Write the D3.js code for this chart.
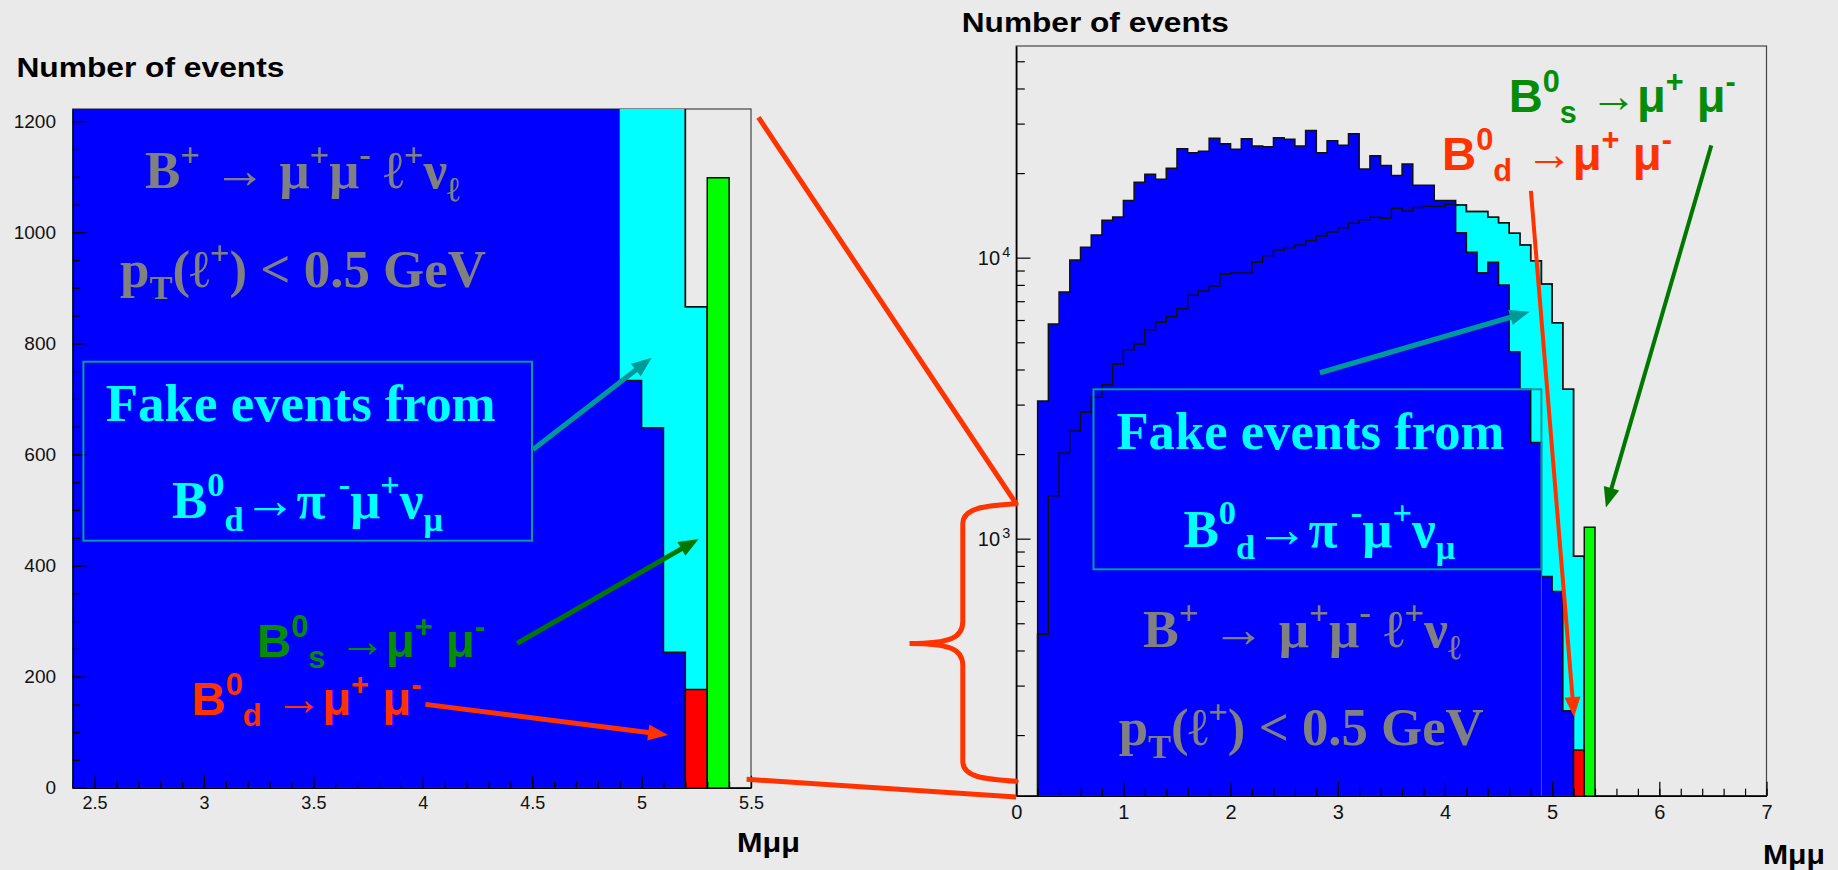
<!DOCTYPE html>
<html>
<head>
<meta charset="utf-8">
<script src="https://cdn.jsdelivr.net/npm/d3@7"></script>
<style>
  body { margin: 0; background: #eaeaea; }
  svg { display: block; }
  text { white-space: pre; }
</style>
</head>
<body>
<div id="chart"></div>
<script>
// ---- values: events per 0.1 GeV bin of M(mu mu) ----
const binWidth = 0.1;

// B+ -> mu+ mu- l+ nu  (blue), first bin starts at 0.2
const bplusStart = 0.2;
const bplusCounts = [3090, 5810, 7550, 9810, 10890, 12040, 13590, 13960, 15960, 18540,
  19800, 19010, 20800, 24430, 23640, 23930, 26620, 25450, 24310, 26520,
  24970, 24830, 26730, 26370, 24970, 28330, 23640, 26060, 25120, 27620,
  20690, 23070, 21260, 19590, 21560, 18100, 18100, 15960, 15960, 12270,
  10450, 8840, 9630, 7990, 4630, 3400, 2200, 733, 648, 244];

// fake events B0d -> pi- mu+ nu  (cyan / step line), first bin starts at 0.2
const fakeStart = 0.2;
const fakeCounts = [457, 1422, 2018, 2416, 2818, 3186, 3527, 4174, 4706, 4918,
  5543, 5888, 6166, 6584, 7345, 7613, 7930, 8730, 8820, 8820,
  9630, 10160, 10650, 10850, 11100, 11500, 11950, 12350, 12790, 13260,
  13650, 13920, 13800, 14990, 14660, 15070, 15200, 15200, 15450, 15390,
  14600, 14600, 13920, 13320, 12210, 11100, 9760, 8060, 5870, 3400,
  866];

// B0d -> mu mu (red) and B0s -> mu mu (green)
const bdStart = 5.2;
const bdCounts = [177];
const bsStart = 5.3;
const bsCounts = [1098];

// tick labels
const leftXTicks = [2.5, 3, 3.5, 4, 4.5, 5, 5.5];
const leftYTicks = [0, 200, 400, 600, 800, 1000, 1200];
const rightXTicks = [0, 1, 2, 3, 4, 5, 6, 7];
const rightYTicks = [1000, 10000];

// label texts as [text, 'sup'|'sub'] pieces
const bplusLabel = [['B'], ['+', 'sup'], [' → μ'], ['+', 'sup'], ['μ'], ['-', 'sup'], [' ℓ'], ['+', 'sup'], ['ν'], ['ℓ', 'sub']];
const ptLabel = [['p'], ['T', 'sub'], ['(ℓ'], ['+', 'sup'], [') < 0.5 GeV']];
const fakeLabel1 = [['Fake events from']];
const fakeLabel2 = [['B'], ['0', 'sup'], ['d', 'sub'], ['→π '], ['-', 'sup'], ['μ'], ['+', 'sup'], ['ν'], ['μ', 'sub']];
const bsLabel = [['B'], ['0', 'sup'], ['s', 'sub'], [' →μ'], ['+', 'sup'], [' μ'], ['-', 'sup']];
const bdLabel = [['B'], ['0', 'sup'], ['d', 'sub'], [' →μ'], ['+', 'sup'], [' μ'], ['-', 'sup']];

const colors = {
  blue: '#0000ff', cyan: '#00ffff', red: '#ff0000', green: '#00ff00',
  teal: '#009999', arrowGreen: '#007800', orange: '#ff3300',
  gray: '#808080', textGreen: '#068c06', line: '#111'
};

const serif = '"Liberation Serif", "Times New Roman", serif';
const sans = '"Liberation Sans", Arial, sans-serif';

function toBins(start, counts) {
  return counts.map((n, i) => {
    const x0 = Math.round((start + i * binWidth) * 10) / 10;
    return {x0: x0, x1: Math.round((x0 + binWidth) * 10) / 10, n: n};
  });
}

const bplusBins = toBins(bplusStart, bplusCounts);
const fakeBins = toBins(fakeStart, fakeCounts);
const bdBins = toBins(bdStart, bdCounts);
const bsBins = toBins(bsStart, bsCounts);

const svg = d3.select('#chart').append('svg')
  .attr('width', 1838)
  .attr('height', 870);

// text with super/subscripts, squeezed to the width seen in the picture
function richText(g, lab) {
  const t = g.append('text')
    .attr('x', lab.x)
    .attr('y', lab.y)
    .attr('font-family', lab.family)
    .attr('font-weight', 'bold')
    .attr('font-size', lab.size)
    .attr('fill', lab.color)
    .attr('textLength', lab.width)
    .attr('lengthAdjust', 'spacingAndGlyphs');
  let shift = 0;
  lab.parts.forEach(([txt, kind]) => {
    const want = kind === 'sup' ? -0.42 * lab.size : kind === 'sub' ? 0.24 * lab.size : 0;
    t.append('tspan')
      .attr('dy', want - shift)
      .attr('font-size', kind ? lab.size * 0.65 : lab.size)
      .text(txt);
    shift = want;
  });
}

function drawArrow(g, p0, p1, color, width, headLen, headW) {
  const dx = p1[0] - p0[0], dy = p1[1] - p0[1];
  const len = Math.hypot(dx, dy);
  const ux = dx / len, uy = dy / len;
  const bx = p1[0] - ux * headLen, by = p1[1] - uy * headLen;
  g.append('line')
    .attr('x1', p0[0]).attr('y1', p0[1])
    .attr('x2', bx + ux * 2).attr('y2', by + uy * 2)
    .attr('stroke', color)
    .attr('stroke-width', width);
  g.append('path')
    .attr('d', `M${p1[0]},${p1[1]}L${bx - uy * headW},${by + ux * headW}L${bx + uy * headW},${by - ux * headW}Z`)
    .attr('fill', color);
}

class HistPanel {

  constructor(_config) {
    this.config = _config;
    this.initVis();
  }

  initVis() {
    let vis = this;
    const c = vis.config;

    vis.x = d3.scaleLinear().domain(c.xDomain).range([0, c.width]);
    vis.y = (c.log ? d3.scaleLog() : d3.scaleLinear()).domain(c.yDomain).range([c.height, 0]);

    vis.g = svg.append('g')
      .attr('transform', `translate(${c.left},${c.top})`);

    vis.g.append('defs').append('clipPath')
        .attr('id', c.id + '-clip')
      .append('rect')
        .attr('width', c.width)
        .attr('height', c.height);

    // frame
    vis.g.append('rect')
      .attr('width', c.width)
      .attr('height', c.height)
      .attr('fill', 'none')
      .attr('stroke', '#444')
      .attr('stroke-width', 1.2);

    vis.chart = vis.g.append('g')
      .attr('clip-path', `url(#${c.id}-clip)`);

    vis.renderVis();
  }

  areaPath(bins) {
    let vis = this;
    const p = d3.path();
    const y0 = vis.config.height;
    bins.forEach((b, i) => {
      if (i === 0) p.moveTo(vis.x(b.x0), y0);
      p.lineTo(vis.x(b.x0), vis.y(b.n));
      p.lineTo(vis.x(b.x1), vis.y(b.n));
    });
    p.lineTo(vis.x(bins[bins.length - 1].x1), y0);
    p.closePath();
    return p.toString();
  }

  // step outline; optionally leave out the vertical coming down from an off-scale bin
  outlinePath(bins, skipClipped) {
    let vis = this;
    const p = d3.path();
    const y0 = vis.config.height;
    let prevClipped = false;
    bins.forEach((b, i) => {
      const yy = vis.y(b.n);
      if (i === 0) {
        p.moveTo(vis.x(b.x0), y0);
        p.lineTo(vis.x(b.x0), yy);
      } else if (skipClipped && prevClipped && yy > 0) {
        p.moveTo(vis.x(b.x0), yy);
      } else {
        p.lineTo(vis.x(b.x0), yy);
      }
      p.lineTo(vis.x(b.x1), yy);
      prevClipped = yy < 0;
    });
    p.lineTo(vis.x(bins[bins.length - 1].x1), y0);
    return p.toString();
  }

  renderVis() {
    let vis = this;
    const c = vis.config;

    const hists = [
      {bins: fakeBins, fill: colors.cyan, stroke: '#333', skip: false},
      {bins: bplusBins, fill: colors.blue, stroke: colors.line, skip: true},
      {bins: fakeBins, fill: 'none', stroke: colors.line, skip: false},
      {bins: bdBins, fill: colors.red, stroke: colors.line, skip: false},
      {bins: bsBins, fill: colors.green, stroke: colors.line, skip: false}
    ];

    hists.forEach(h => {
      if (h.fill !== 'none') {
        vis.chart.append('path')
          .attr('d', vis.areaPath(h.bins))
          .attr('fill', h.fill);
      }
      vis.chart.append('path')
        .attr('d', vis.outlinePath(h.bins, h.skip))
        .attr('fill', 'none')
        .attr('stroke', h.stroke)
        .attr('stroke-width', 1.5);
    });

    // axes, ticks pointing into the frame
    const xMajor = d3.axisBottom(vis.x)
      .tickValues(c.xTicks)
      .tickSizeInner(-c.xTickLen)
      .tickSizeOuter(0)
      .tickPadding(c.xPad)
      .tickFormat(d => d);
    const xMinor = d3.axisBottom(vis.x)
      .tickValues(c.xMinor)
      .tickSize(-c.xTickLen / 2)
      .tickFormat('');

    vis.g.append('g').attr('class', 'minor')
      .attr('transform', `translate(0,${c.height})`)
      .call(xMinor);
    vis.xAxisG = vis.g.append('g')
      .attr('transform', `translate(0,${c.height})`)
      .call(xMajor);
    vis.xAxisG.selectAll('text')
      .attr('font-family', sans)
      .attr('font-size', c.xFont)
      .attr('fill', '#111');

    const yMajor = d3.axisLeft(vis.y)
      .tickValues(c.yTicks)
      .tickSizeInner(-c.yTickLen)
      .tickSizeOuter(0)
      .tickPadding(c.yPad)
      .tickFormat(c.log ? () => '10' : d3.format('d'));
    const yMinor = d3.axisLeft(vis.y)
      .tickValues(c.yMinor)
      .tickSize(-c.yTickLen * 0.55)
      .tickFormat('');

    vis.g.append('g').attr('class', 'minor').call(yMinor);
    vis.yAxisG = vis.g.append('g').call(yMajor);
    vis.yAxisG.selectAll('text')
      .attr('font-family', sans)
      .attr('font-size', c.yFont)
      .attr('fill', '#111');
    if (c.log) {
      vis.yAxisG.selectAll('.tick text')
        .append('tspan')
        .attr('dy', '-0.55em')
        .attr('dx', '0.15em')
        .attr('font-size', '0.72em')
        .text(d => Math.round(Math.log10(d)));
    }

    vis.g.selectAll('.domain')
      .attr('stroke', '#000')
      .attr('stroke-width', 1.6);
    vis.g.selectAll('.minor .domain').remove();
    vis.g.selectAll('.tick line')
      .attr('stroke', '#000')
      .attr('stroke-width', 1.2);

    // annotations
    vis.notes = vis.g.append('g');
    if (c.extraLine) {
      vis.notes.append('line')
        .attr('x1', vis.x(c.extraLine.x)).attr('x2', vis.x(c.extraLine.x))
        .attr('y1', c.extraLine.y0).attr('y2', c.height)
        .attr('stroke', '#3355ff')
        .attr('stroke-width', 1);
    }
    vis.notes.append('rect')
      .attr('x', c.box.x).attr('y', c.box.y)
      .attr('width', c.box.w).attr('height', c.box.h)
      .attr('fill', 'none')
      .attr('stroke', '#0a9a9a')
      .attr('stroke-width', 2);

    c.labels.forEach(lab => richText(vis.notes, lab));

    c.arrows.forEach(a => {
      drawArrow(vis.notes,
        [vis.x(a.from[0]), vis.y(a.from[1])],
        [vis.x(a.to[0]), vis.y(a.to[1])],
        a.color, a.width, a.headLen, a.headW);
    });
  }
}

const grayTxt = {family: serif, color: colors.gray, size: 53};
const cyanTxt = {family: serif, color: colors.cyan, size: 53};
const greenTxt = {family: sans, color: colors.textGreen, size: 47};
const redTxt = {family: sans, color: colors.orange, size: 47};

const leftPanel = new HistPanel({
  id: 'left',
  left: 72.7, top: 109, width: 678.3, height: 678.7,
  xDomain: [2.4, 5.5], yDomain: [0, 1222], log: false,
  xTicks: leftXTicks, xMinor: d3.range(24, 56).map(d => d / 10),
  yTicks: leftYTicks, yMinor: d3.range(0, 1222, 50),
  xTickLen: 12, yTickLen: 13.6, xPad: 8.5, yPad: 16.7, xFont: 18, yFont: 19,
  box: {x: 10.7, y: 252.7, w: 448.6, h: 179},
  labels: [
    {...grayTxt, parts: bplusLabel, x: 72.3, y: 79.3, width: 315},
    {...grayTxt, parts: ptLabel, x: 47.3, y: 177.7, width: 366},
    {...cyanTxt, parts: fakeLabel1, x: 33, y: 312, width: 390},
    {...cyanTxt, parts: fakeLabel2, x: 99.3, y: 409.3, width: 271},
    {...greenTxt, parts: bsLabel, x: 184.3, y: 547.7, width: 228},
    {...redTxt, parts: bdLabel, x: 118.8, y: 606, width: 230}
  ],
  arrows: [
    {from: [4.504, 609], to: [5.046, 774], color: colors.teal, width: 5, headLen: 20, headW: 8},
    {from: [4.431, 260], to: [5.261, 448], color: colors.arrowGreen, width: 5, headLen: 20, headW: 8},
    {from: [4.012, 150], to: [5.121, 95], color: colors.orange, width: 5, headLen: 20, headW: 8}
  ]
});

const rightPanel = new HistPanel({
  id: 'right',
  left: 1016.2, top: 46, width: 750.3, height: 749.7,
  xDomain: [0, 7], yDomain: [121.7, 56660], log: true,
  xTicks: rightXTicks, xMinor: d3.range(0, 36).map(d => d / 5),
  yTicks: rightYTicks, yMinor: [],
  xTickLen: 14, yTickLen: 14.3, xPad: 9.5, yPad: 6, xFont: 20, yFont: 20,
  box: {x: 77.3, y: 343.3, w: 447.9, h: 180},
  extraLine: {x: 4.9, y0: 523.3},
  labels: [
    {...greenTxt, parts: bsLabel, x: 492.5, y: 65.7, width: 227},
    {...redTxt, parts: bdLabel, x: 425.8, y: 124, width: 230},
    {...cyanTxt, parts: fakeLabel1, x: 100.2, y: 403, width: 388},
    {...cyanTxt, parts: fakeLabel2, x: 167.2, y: 500.7, width: 272},
    {...grayTxt, parts: bplusLabel, x: 126.8, y: 600.7, width: 318},
    {...grayTxt, parts: ptLabel, x: 102.5, y: 699, width: 365}
  ],
  arrows: [
    {from: [2.834, 3894], to: [4.790, 6421], color: colors.teal, width: 5, headLen: 20, headW: 8},
    {from: [4.802, 17280], to: [5.205, 232], color: colors.orange, width: 4, headLen: 20, headW: 8},
    {from: [6.485, 25090], to: [5.502, 1292], color: colors.arrowGreen, width: 4, headLen: 20, headW: 8}
  ]
});

// log minor ticks: every 1..9 x decade inside the range
rightPanel.g.append('g').attr('class', 'minor')
  .call(d3.axisLeft(rightPanel.y)
    .tickValues(rightPanel.y.ticks().filter(d => !rightYTicks.includes(d)))
    .tickSize(-8.6)
    .tickFormat(''))
  .call(g => g.select('.domain').remove())
  .selectAll('line').attr('stroke', '#000').attr('stroke-width', 1.2);

// titles
[
  {x: 16.4, y: 76.5, w: 268, t: 'Number of events'},
  {x: 961.8, y: 32.3, w: 267, t: 'Number of events'},
  {x: 737, y: 852, w: 63, t: 'Mμμ'},
  {x: 1763, y: 863.5, w: 62, t: 'Mμμ'}
].forEach(d => {
  svg.append('text')
    .attr('x', d.x).attr('y', d.y)
    .attr('font-family', sans)
    .attr('font-weight', 'bold')
    .attr('font-size', 28)
    .attr('textLength', d.w)
    .attr('lengthAdjust', 'spacingAndGlyphs')
    .attr('fill', '#000')
    .text(d.t);
});

// zoom connectors between the two panels and the brace on the log axis
function panelPoint(panel, xv, yv) {
  return [panel.config.left + panel.x(xv), panel.config.top + panel.y(yv)];
}
const connectors = [
  [panelPoint(leftPanel, 5.534, 1207), panelPoint(rightPanel, 0, 1330)],
  [panelPoint(leftPanel, 5.48, 15), panelPoint(rightPanel, 0, 120.5)]
];
connectors.forEach(([a, b]) => {
  svg.append('line')
    .attr('x1', a[0]).attr('y1', a[1])
    .attr('x2', b[0]).attr('y2', b[1])
    .attr('stroke', colors.orange)
    .attr('stroke-width', 5);
});

const braceTop = panelPoint(rightPanel, 0, 1330);
const braceBot = panelPoint(rightPanel, 0, 137);
const xs = braceTop[0] - 53.4, xtip = braceTop[0] - 106.7;
const yt = braceTop[1], yb = braceBot[1], ym = (yt + yb) / 2 + 1;
const brace = d3.path();
brace.moveTo(braceTop[0], yt);
brace.bezierCurveTo(braceTop[0] - 32, yt + 2, xs, yt + 4, xs, yt + 20);
brace.lineTo(xs, ym - 22);
brace.bezierCurveTo(xs, ym - 6, xs - 12, ym, xtip, ym);
brace.bezierCurveTo(xs - 12, ym, xs, ym + 6, xs, ym + 22);
brace.lineTo(xs, yb - 20);
brace.bezierCurveTo(xs, yb - 4, braceTop[0] - 32, yb - 2, braceBot[0], yb);
svg.append('path')
  .attr('d', brace.toString())
  .attr('fill', 'none')
  .attr('stroke', colors.orange)
  .attr('stroke-width', 5)
  .attr('stroke-linecap', 'round');
</script>
</body>
</html>
